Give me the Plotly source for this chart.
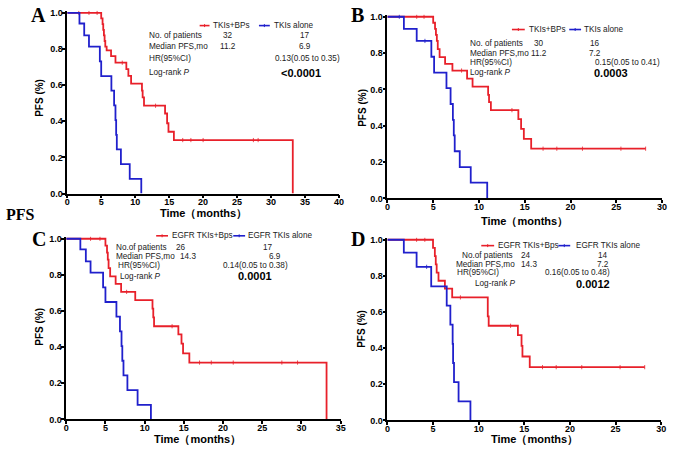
import numpy as np
import plotly.graph_objects as go

W, H = 677, 452
RED = "#e8202a"
BLUE = "#2020cc"

# ---------------- data ----------------
# Panel A
a_red_t = [5.0, 5.2, 5.3, 5.4, 5.5, 5.6, 5.8, 6.45, 7.1, 8.7, 9.0, 9.4, 11.0, 11.1, 11.3, 14.4, 14.7, 14.9, 15.7, 33.2]
a_red_s = [0.969, 0.938, 0.906, 0.875, 0.844, 0.813, 0.792, 0.760, 0.724, 0.688, 0.651, 0.608, 0.570, 0.532, 0.486, 0.443, 0.389, 0.342, 0.296, 0.0]
a_red_end = 33.2
a_red_cens = [1.7, 3.2, 4.4, 8.1, 13.0, 17.0, 18.2, 20.0, 27.4, 28.1]
a_blue_t = [1.8, 2.5, 3.2, 4.8, 5.0, 6.5, 6.9, 7.1, 7.2, 7.3, 7.9, 9.2, 10.9]
a_blue_s = [0.941, 0.875, 0.813, 0.731, 0.650, 0.569, 0.488, 0.406, 0.325, 0.244, 0.163, 0.081, 0.0]
a_blue_end = 10.9
a_blue_cens = []

# Panel B
b_red_t = [5.0, 5.2, 5.3, 5.4, 5.5, 5.7, 6.3, 7.1, 8.7, 9.3, 11.0, 11.1, 11.3, 14.3, 14.6, 14.9, 15.7]
b_red_s = [0.967, 0.933, 0.900, 0.867, 0.822, 0.778, 0.741, 0.704, 0.660, 0.616, 0.570, 0.530, 0.486, 0.437, 0.383, 0.328, 0.274]
b_red_end = 28.2
b_red_cens = [3.2, 4.0, 8.1, 13.6, 17.0, 18.5, 21.3, 25.5, 28.2]
b_blue_t = [1.8, 3.2, 4.8, 5.1, 6.45, 6.9, 7.15, 7.25, 7.35, 7.9, 9.1, 10.9]
b_blue_s = [0.933, 0.867, 0.780, 0.693, 0.607, 0.520, 0.433, 0.347, 0.260, 0.173, 0.087, 0.0]
b_blue_end = 10.9
b_blue_cens = [1.3, 4.1]

# Panel C
c_red_t = [5.0, 5.2, 5.3, 5.4, 5.6, 6.3, 7.0, 8.8, 11.0, 11.1, 11.2, 14.3, 14.7, 14.9, 15.7, 33.2]
c_red_s = [0.962, 0.923, 0.885, 0.838, 0.792, 0.750, 0.706, 0.660, 0.613, 0.565, 0.516, 0.471, 0.420, 0.366, 0.315, 0.0]
c_red_end = 33.2
c_red_cens = [3.1, 4.3, 7.7, 13.5, 17.0, 18.5, 21.3, 27.5, 29.5]
c_blue_t = [1.8, 2.5, 3.1, 4.7, 5.0, 6.4, 6.85, 7.05, 7.15, 7.3, 7.8, 9.1, 10.8]
c_blue_s = [0.941, 0.875, 0.813, 0.731, 0.650, 0.569, 0.488, 0.406, 0.325, 0.244, 0.163, 0.081, 0.0]
c_blue_end = 10.8
c_blue_cens = []

# Panel D
d_red_t = [5.0, 5.2, 5.3, 5.4, 5.6, 6.3, 7.1, 11.0, 11.1, 14.3, 14.7, 14.8, 15.6]
d_red_s = [0.955, 0.909, 0.864, 0.818, 0.773, 0.729, 0.681, 0.576, 0.524, 0.472, 0.413, 0.354, 0.295]
d_red_end = 28.2
d_red_cens = [3.2, 4.1, 8.0, 13.5, 17.0, 18.5, 21.3, 25.5, 28.2]
d_blue_t = [1.8, 3.2, 4.8, 6.5, 6.9, 7.15, 7.2, 7.3, 7.8, 9.1]
d_blue_s = [0.929, 0.850, 0.742, 0.636, 0.530, 0.424, 0.318, 0.212, 0.106, 0.0]
d_blue_end = 9.1
d_blue_cens = [4.3]

# table texts
row_labels_ab = ["No. of patients", "Median PFS,mo", "HR(95%CI)", "Log-rank <i>P</i>"]
row_labels_cd = ["No.of patients", "Median PFS,mo", "HR(95%CI)", "Log-rank <i>P</i>"]
a_col1 = ["32", "11.2"]; a_col2 = ["17", "6.9"]; a_hr = "0.13(0.05 to 0.35)"; a_p = "<0.0001"
b_col1 = ["30", "11.2"]; b_col2 = ["16", "7.2"]; b_hr = "0.15(0.05 to 0.41)"; b_p = "0.0003"
c_col1 = ["26", "14.3"]; c_col2 = ["17", "6.9"]; c_hr = "0.14(0.05 to 0.38)"; c_p = "0.0001"
d_col1 = ["24", "14.3"]; d_col2 = ["14", "7.2"]; d_hr = "0.16(0.05 to 0.48)"; d_p = "0.0012"
legend_ab = ["TKIs+BPs", "TKIs alone"]
legend_cd = ["EGFR TKIs+Bps", "EGFR TKIs alone"]
x_ticks_a = [0, 5, 10, 15, 20, 25, 30, 35, 40]
x_ticks_b = [0, 5, 10, 15, 20, 25, 30]
x_ticks_c = [0, 5, 10, 15, 20, 25, 30, 35]
y_ticks = [0.0, 0.2, 0.4, 0.6, 0.8, 1.0]

# ---------------- layout helpers ----------------
def fx(p):
    return p / W

def fy(p):
    return 1 - p / H

panels = [
    dict(k="", x0=65, x1=340, xmax=40, yt=10, yb=194, xt=x_ticks_a),
    dict(k="2", x0=389, x1=667, xmax=30, yt=14, yb=199, xt=x_ticks_b),
    dict(k="3", x0=64, x1=341.7, xmax=35, yt=240, yb=424, xt=x_ticks_c),
    dict(k="4", x0=389, x1=666, xmax=30, yt=241, yb=425, xt=x_ticks_b),
]

curves = [
    [(a_red_t, a_red_s, a_red_end, a_red_cens, RED), (a_blue_t, a_blue_s, a_blue_end, a_blue_cens, BLUE)],
    [(b_red_t, b_red_s, b_red_end, b_red_cens, RED), (b_blue_t, b_blue_s, b_blue_end, b_blue_cens, BLUE)],
    [(c_red_t, c_red_s, c_red_end, c_red_cens, RED), (c_blue_t, c_blue_s, c_blue_end, c_blue_cens, BLUE)],
    [(d_red_t, d_red_s, d_red_end, d_red_cens, RED), (d_blue_t, d_blue_s, d_blue_end, d_blue_cens, BLUE)],
]

fig = go.Figure()
layout = {}
YMAX = 1.012
for p, crvs in zip(panels, curves):
    k = p["k"]
    xa, ya = "x" + k, "y" + k
    for t, s, end, cens, col in crvs:
        xs = [0] + list(t)
        ys = [1.0] + list(s)
        if end > xs[-1]:
            xs.append(end)
            ys.append(ys[-1])
        fig.add_trace(go.Scatter(x=xs, y=ys, mode="lines", line=dict(color=col, width=1.8, shape="hv"),
                                 xaxis=xa, yaxis=ya, showlegend=False, hoverinfo="skip"))
        if cens:
            ct = np.array(cens)
            idx = np.searchsorted(np.array(xs), ct, side="right") - 1
            cy = np.array(ys)[idx]
            fig.add_trace(go.Scatter(x=ct, y=cy, mode="markers",
                                     marker=dict(symbol="line-ns", size=3, line=dict(color=col, width=0.8)),
                                     xaxis=xa, yaxis=ya, showlegend=False, hoverinfo="skip"))
    span = p["yb"] - p["yt"]
    ytop = p["yt"] - (YMAX - 1) * span
    axcommon = dict(showline=True, linecolor="black", linewidth=1.5, ticks="outside", ticklen=3,
                    tickwidth=1.5, tickcolor="black", showgrid=False, zeroline=False,
                    tickfont=dict(family="Liberation Sans, Arial", size=9, color="black", weight="bold"))
    layout["xaxis" + k] = dict(domain=[fx(p["x0"]), fx(p["x1"])], range=[0, p["xmax"]],
                               tickvals=p["xt"], anchor=ya, ticklabelstandoff=-4, **axcommon)
    layout["yaxis" + k] = dict(domain=[fy(p["yb"]), fy(ytop)], range=[0, YMAX],
                               tickvals=y_ticks, tickformat=".1f", anchor=xa, ticklabelstandoff=-2, **axcommon)

fig.update_layout(**layout)

ann = []
shapes = []
TF = "Liberation Sans, Arial"
TC = "#222222"

def txt(x, y, s, size=8.2, anchor="left", bold=False, color=TC, family=TF, angle=0):
    ann.append(dict(x=fx(x), y=fy(y), xref="paper", yref="paper", text=s, showarrow=False,
                    xanchor=anchor, yanchor="middle", textangle=angle, borderpad=0,
                    font=dict(family=family, size=size, color=color, weight="bold" if bold else "normal")))

def leg(y, rx0, rx1, rtx, bx0, bx1, btx, labels):
    for x0, x1, tx, col, lab in [(rx0, rx1, rtx, RED, labels[0]), (bx0, bx1, btx, BLUE, labels[1])]:
        shapes.append(dict(type="line", xref="paper", yref="paper", x0=fx(x0), x1=fx(x1), y0=fy(y), y1=fy(y),
                           line=dict(color=col, width=1.6)))
        xm = (x0 + x1) / 2
        shapes.append(dict(type="line", xref="paper", yref="paper", x0=fx(xm), x1=fx(xm), y0=fy(y - 1.5), y1=fy(y + 1.5),
                           line=dict(color=col, width=1)))
        txt(tx, y, lab, size=8.2)

for lx, ly, L in [(36, 12, "A"), (359, 12, "B"), (36, 240, "C"), (359, 240, "D")]:
    txt(lx, ly, L, size=20, anchor="center", bold=True, color="black", family="Liberation Serif, Times New Roman")
txt(18, 215, "PFS", size=16, anchor="center", bold=True, color="black", family="Liberation Serif, Times New Roman")

for x, y in [(37, 97), (363, 107), (37, 330), (362, 332)]:
    txt(x, y, "PFS (%)", size=10, anchor="center", bold=True, color="black", angle=-90)
for x, y in [(203, 214), (528, 222), (197, 444), (538, 444)]:
    txt(x, y, "Time（months）", size=11, anchor="center", bold=True, color="black")

leg(23, 199, 209, 212, 259, 270, 273, legend_ab)
leg(27, 515, 528, 531, 573, 585, 587, legend_ab)
leg(237, 155, 167, 170, 233, 245, 247, legend_cd)
leg(247, 484, 497, 500, 562, 574, 579, legend_cd)

# A
for lab, y in zip(row_labels_ab, [33, 44, 57, 71]):
    txt(147, y, lab)
for v, y in zip(a_col1, [33, 44]):
    txt(228, y, v, anchor="center")
for v, y in zip(a_col2, [33, 44]):
    txt(306, y, v, anchor="center")
txt(308, 57, a_hr, anchor="center")
txt(302, 71, a_p, size=11, anchor="center", bold=True, color="black")
# B
for lab, y in zip(row_labels_ab, [41, 51, 61, 71]):
    txt(472, y, lab)
for v, y in zip(b_col1, [41, 51]):
    txt(542, y, v, anchor="center")
for v, y in zip(b_col2, [41, 51]):
    txt(599, y, v, anchor="center")
txt(598, 61, b_hr)
txt(615, 71, b_p, size=11, anchor="center", bold=True, color="black")
# C
for lab, x, y in zip(row_labels_cd, [113, 113, 115, 117], [249, 258, 267, 278]):
    txt(x, y, lab)
for v, x, y in zip(c_col1, [180, 187], [249, 258]):
    txt(x, y, v, anchor="center")
for v, x, y in zip(c_col2, [268, 275], [249, 258]):
    txt(x, y, v, anchor="center")
txt(256, 267, c_hr, anchor="center")
txt(255, 278, c_p, size=11, anchor="center", bold=True, color="black")
# D
for lab, x, y in zip(row_labels_cd, [463, 457, 458, 477], [257, 266, 274, 286]):
    txt(x, y, lab)
for v, x, y in zip(d_col1, [529, 532], [257, 266]):
    txt(x, y, v, anchor="center")
for v, x, y in zip(d_col2, [607, 607], [257, 266]):
    txt(x, y, v, anchor="center")
txt(581, 274, d_hr, anchor="center")
txt(597, 286, d_p, size=11, anchor="center", bold=True, color="black")

fig.update_layout(width=W, height=H, margin=dict(l=0, r=0, t=0, b=0),
                  paper_bgcolor="white", plot_bgcolor="white",
                  annotations=ann, shapes=shapes, showlegend=False)
fig.write_html("out.html", config={"displayModeBar": False},
               post_script="document.body.style.margin='0';document.body.style.overflow='hidden';")
